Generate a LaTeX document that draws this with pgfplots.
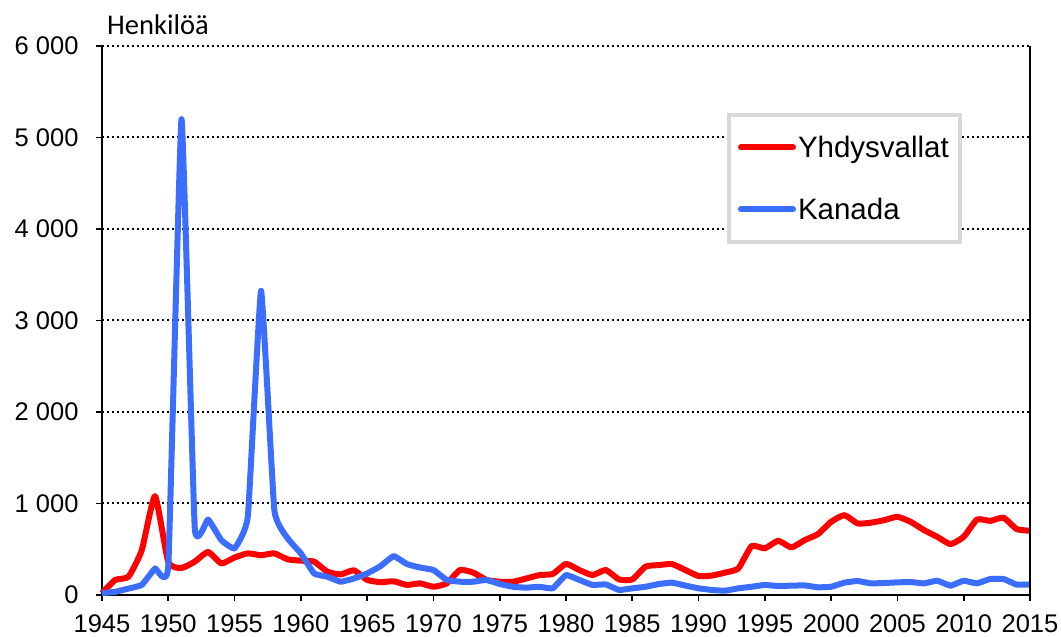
\documentclass[border=0pt]{standalone}
\usepackage{pgfplots}
\pgfplotsset{compat=1.18}
\usepackage{fontspec}
\setmainfont{Liberation Sans}
\newfontfamily\carlito{Carlito}
\definecolor{usred}{RGB}{255,0,0}
\definecolor{cablue}{RGB}{59,110,255}
\definecolor{legframe}{RGB}{217,217,217}
\begin{document}
\begin{tikzpicture}
\begin{axis}[
  at={(0,0)}, anchor=south west,
  scale only axis, width=928pt, height=549pt,
  xmin=1945, xmax=2015, ymin=0, ymax=6000,
  axis x line*=bottom, axis y line*=left,
  axis line style={line width=1.8pt, black, -},
  xtick={1945,1950,1955,1960,1965,1970,1975,1980,1985,1990,1995,2000,2005,2010,2015},
  xticklabels={1945,1950,1955,1960,1965,1970,1975,1980,1985,1990,1995,2000,2005,2010,2015},
  ytick={0,1000,2000,3000,4000,5000,6000},
  yticklabels={0,{1 000},{2 000},{3 000},{4 000},{5 000},{6 000}},
  tick align=outside, major tick length=6pt,
  tick style={line width=1.8pt, black},
  ticklabel style={font=\fontsize{25.5}{30}\selectfont},
  xticklabel style={yshift=-10pt},
  yticklabel style={xshift=-14pt},
  ymajorgrids,
  grid style={black, line width=2pt, dash pattern=on 2pt off 3pt},
  legend style={at={(0.6735,0.878)}, anchor=north west, draw=legframe, line width=4pt,
    font=\fontsize{29.5}{34}\selectfont, inner xsep=9pt, inner ysep=19pt, row sep=35pt},
  legend cell align=left,
  legend image code/.code={\draw[#1, line cap=round] (0pt,0pt) -- (52pt,0pt);},
  clip=false,
]
\addplot[usred, line width=6pt, line join=round, smooth, tension=0.3] coordinates {
(1945,20)(1946,165)(1947,200)(1948,490)(1949,1080)(1950,360)(1951,295)(1952,365)(1953,470)(1954,345)
(1955,410)(1956,455)(1957,435)(1958,455)(1959,390)(1960,375)(1961,365)(1962,255)(1963,225)(1964,270)
(1965,165)(1966,140)(1967,150)(1968,110)(1969,127)(1970,90)(1971,127)(1972,273)(1973,245)(1974,165)
(1975,145)(1976,145)(1977,180)(1978,218)(1979,230)(1980,340)(1981,273)(1982,218)(1983,273)(1984,170)
(1985,170)(1986,310)(1987,327)(1988,338)(1989,273)(1990,207)(1991,212)(1992,245)(1993,290)(1994,535)
(1995,510)(1996,593)(1997,520)(1998,600)(1999,665)(2000,800)(2001,873)(2002,782)(2003,790)(2004,818)
(2005,855)(2006,800)(2007,710)(2008,636)(2009,556)(2010,636)(2011,825)(2012,810)(2013,845)(2014,720)
(2015,702)};
\addlegendentry{Yhdysvallat}
\addplot[cablue, line width=6pt, line join=round, smooth, tension=0.2] coordinates {
(1945,20)(1946,35)(1947,70)(1948,110)(1949,290)(1950,320)(1951,5200)(1952,725)(1953,825)(1954,600)
(1955,510)(1956,855)(1957,3325)(1958,925)(1959,620)(1960,455)(1961,235)(1962,200)(1963,145)(1964,180)
(1965,235)(1966,315)(1967,425)(1968,338)(1969,300)(1970,273)(1971,165)(1972,145)(1973,145)(1974,165)
(1975,120)(1976,90)(1977,80)(1978,90)(1979,73)(1980,218)(1981,165)(1982,110)(1983,116)(1984,55)
(1985,73)(1986,90)(1987,120)(1988,135)(1989,103)(1990,73)(1991,55)(1992,47)(1993,73)(1994,90)
(1995,110)(1996,98)(1997,102)(1998,105)(1999,84)(2000,90)(2001,135)(2002,153)(2003,127)(2004,131)
(2005,138)(2006,142)(2007,127)(2008,156)(2009,102)(2010,156)(2011,127)(2012,175)(2013,175)(2014,113)
(2015,116)};
\addlegendentry{Kanada}
\draw[black, line width=1.8pt] (rel axis cs:1,0) -- (rel axis cs:1,1);
\node[anchor=base west, inner sep=0pt, font=\carlito\fontsize{28.5}{33}\selectfont] at ([xshift=5pt, yshift=11pt]rel axis cs:0,1) {Henkilöä};
\end{axis}
\pgfresetboundingbox
\path (-102pt,-42pt) rectangle (959pt,595pt);
\end{tikzpicture}
\end{document}
